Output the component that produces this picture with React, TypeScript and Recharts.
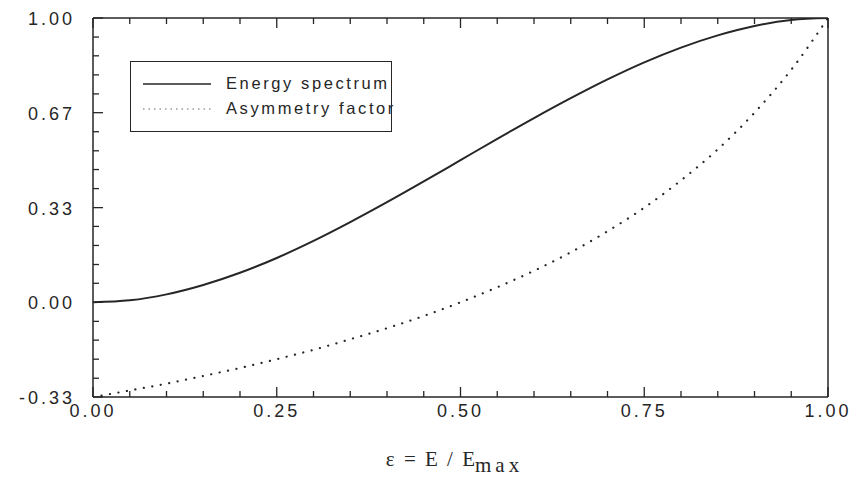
import { LineChart, Line, XAxis, YAxis, Legend, Label } from 'recharts'

// reduced energy eps = E / Emax
const epsilon = [0, 0.05, 0.1, 0.15, 0.2, 0.25, 0.3, 0.35, 0.4, 0.45, 0.5, 0.55, 0.6, 0.65, 0.7, 0.75, 0.8, 0.85, 0.9, 0.95, 1]
const energySpectrum = [0, 0.007, 0.028, 0.061, 0.104, 0.156, 0.216, 0.282, 0.352, 0.425, 0.5, 0.575, 0.648, 0.718, 0.784, 0.844, 0.896, 0.939, 0.972, 0.993, 1]
const asymmetryFactor = [-0.333, -0.31, -0.286, -0.259, -0.231, -0.2, -0.167, -0.13, -0.091, -0.048, 0, 0.053, 0.111, 0.176, 0.25, 0.333, 0.429, 0.538, 0.667, 0.818, 1]

const xTicks = [0, 0.05, 0.1, 0.15, 0.2, 0.25, 0.3, 0.35, 0.4, 0.45, 0.5, 0.55, 0.6, 0.65, 0.7, 0.75, 0.8, 0.85, 0.9, 0.95, 1]
const yTicks = [-0.333, -0.267, -0.2, -0.133, -0.067, 0, 0.067, 0.133, 0.2, 0.267, 0.333, 0.4, 0.467, 0.533, 0.6, 0.667, 0.733, 0.8, 0.867, 0.933, 1]

const data = epsilon.map((e, i) => ({ eps: e, energy: energySpectrum[i], asym: asymmetryFactor[i] }))

const INK = '#262626'
const FONT = '"Liberation Sans", Arial, sans-serif'

// every 5th tick is a major one with a label, ticks point into the frame
function Tick(props: any) {
  const { x, y, payload, index, orientation } = props
  const major = index % 5 === 0
  const len = major ? 10 : 6
  const label = payload.value.toFixed(2)
  const textStyle = { fontFamily: FONT, fontSize: 18, letterSpacing: 3, fill: INK }
  if (orientation === 'bottom') {
    return (
      <g>
        <line x1={x} y1={y} x2={x} y2={y - len} stroke={INK} strokeWidth={1.3} />
        {major && <text x={x} y={y + 20} textAnchor="middle" style={textStyle}>{label}</text>}
      </g>
    )
  }
  if (orientation === 'top') {
    return <line x1={x} y1={y} x2={x} y2={y + len} stroke={INK} strokeWidth={1.3} />
  }
  if (orientation === 'left') {
    return (
      <g>
        <line x1={x} y1={y} x2={x + len} y2={y} stroke={INK} strokeWidth={1.3} />
        {major && <text x={x - 18} y={y + 7} textAnchor="end" style={textStyle}>{label}</text>}
      </g>
    )
  }
  return <line x1={x} y1={y} x2={x - len} y2={y} stroke={INK} strokeWidth={1.3} />
}

function XTitle(props: any) {
  const { viewBox } = props
  const cx = viewBox.x + viewBox.width / 2
  return (
    <text x={cx - 6} y={viewBox.y + 69} textAnchor="middle"
      style={{ fontFamily: '"Liberation Serif", "Times New Roman", serif', fontSize: 21, fill: INK }}>
      <tspan style={{ wordSpacing: 4 }}>ε = E / E</tspan>
      <tspan dy={6} style={{ letterSpacing: 4 }}>max</tspan>
    </text>
  )
}

function LegendBox() {
  const rows = [
    { name: 'Energy spectrum', dash: undefined },
    { name: 'Asymmetry factor', dash: '1.5 4' },
  ]
  return (
    <div style={{ border: `1.5px solid ${INK}`, width: 262, height: 71, boxSizing: 'border-box', paddingTop: 9, background: '#fff' }}>
      {rows.map(r => (
        <div key={r.name} style={{ display: 'flex', alignItems: 'center', height: 25 }}>
          <svg width={95} height={10} style={{ flex: 'none' }}>
            <line x1={12} y1={5} x2={80} y2={5} stroke={r.dash ? '#666' : INK} strokeWidth={r.dash ? 1.2 : 1.6} strokeDasharray={r.dash} />
          </svg>
          <span style={{ fontFamily: FONT, fontSize: 16.5, letterSpacing: 2.6, color: INK, whiteSpace: 'nowrap' }}>{r.name}</span>
        </div>
      ))}
    </div>
  )
}

export default function App() {
  return (
    <div style={{ position: 'absolute', left: 0, top: 0, background: '#fff' }}>
      <LineChart width={856} height={477} data={data} margin={{ top: 17, right: 27, bottom: 50, left: 0 }}>
        <XAxis dataKey="eps" type="number" domain={[0, 1]} ticks={xTicks} interval={0}
          height={30} tickSize={0} tickMargin={0} tickLine={false} tick={<Tick />}
          axisLine={{ stroke: INK, strokeWidth: 1.5 }}>
          <Label content={<XTitle />} />
        </XAxis>
        <XAxis xAxisId="top" orientation="top" dataKey="eps" type="number" domain={[0, 1]} ticks={xTicks} interval={0}
          height={1} tickSize={0} tickMargin={0} tickLine={false} tick={<Tick />}
          axisLine={{ stroke: INK, strokeWidth: 1.5 }} />
        <YAxis type="number" domain={[-0.333, 1]} ticks={yTicks} interval={0} allowDataOverflow
          width={93} tickSize={0} tickMargin={0} tickLine={false} tick={<Tick />}
          axisLine={{ stroke: INK, strokeWidth: 1.5 }} />
        <YAxis yAxisId="right" orientation="right" type="number" domain={[-0.333, 1]} ticks={yTicks} interval={0}
          width={1} tickSize={0} tickMargin={0} tickLine={false} tick={<Tick />}
          axisLine={{ stroke: INK, strokeWidth: 1.5 }} />
        <Legend content={<LegendBox />} layout="vertical" verticalAlign="middle" align="center"
          wrapperStyle={{ left: 130, top: 61, width: 262 }} />
        <Line type="monotone" dataKey="energy" name="Energy spectrum" stroke={INK} strokeWidth={2}
          dot={false} isAnimationActive={false} />
        <Line type="monotone" dataKey="asym" name="Asymmetry factor" stroke={INK} strokeWidth={2.2}
          strokeDasharray="0.1 8.5" strokeLinecap="round" dot={false} isAnimationActive={false} />
      </LineChart>
    </div>
  )
}
